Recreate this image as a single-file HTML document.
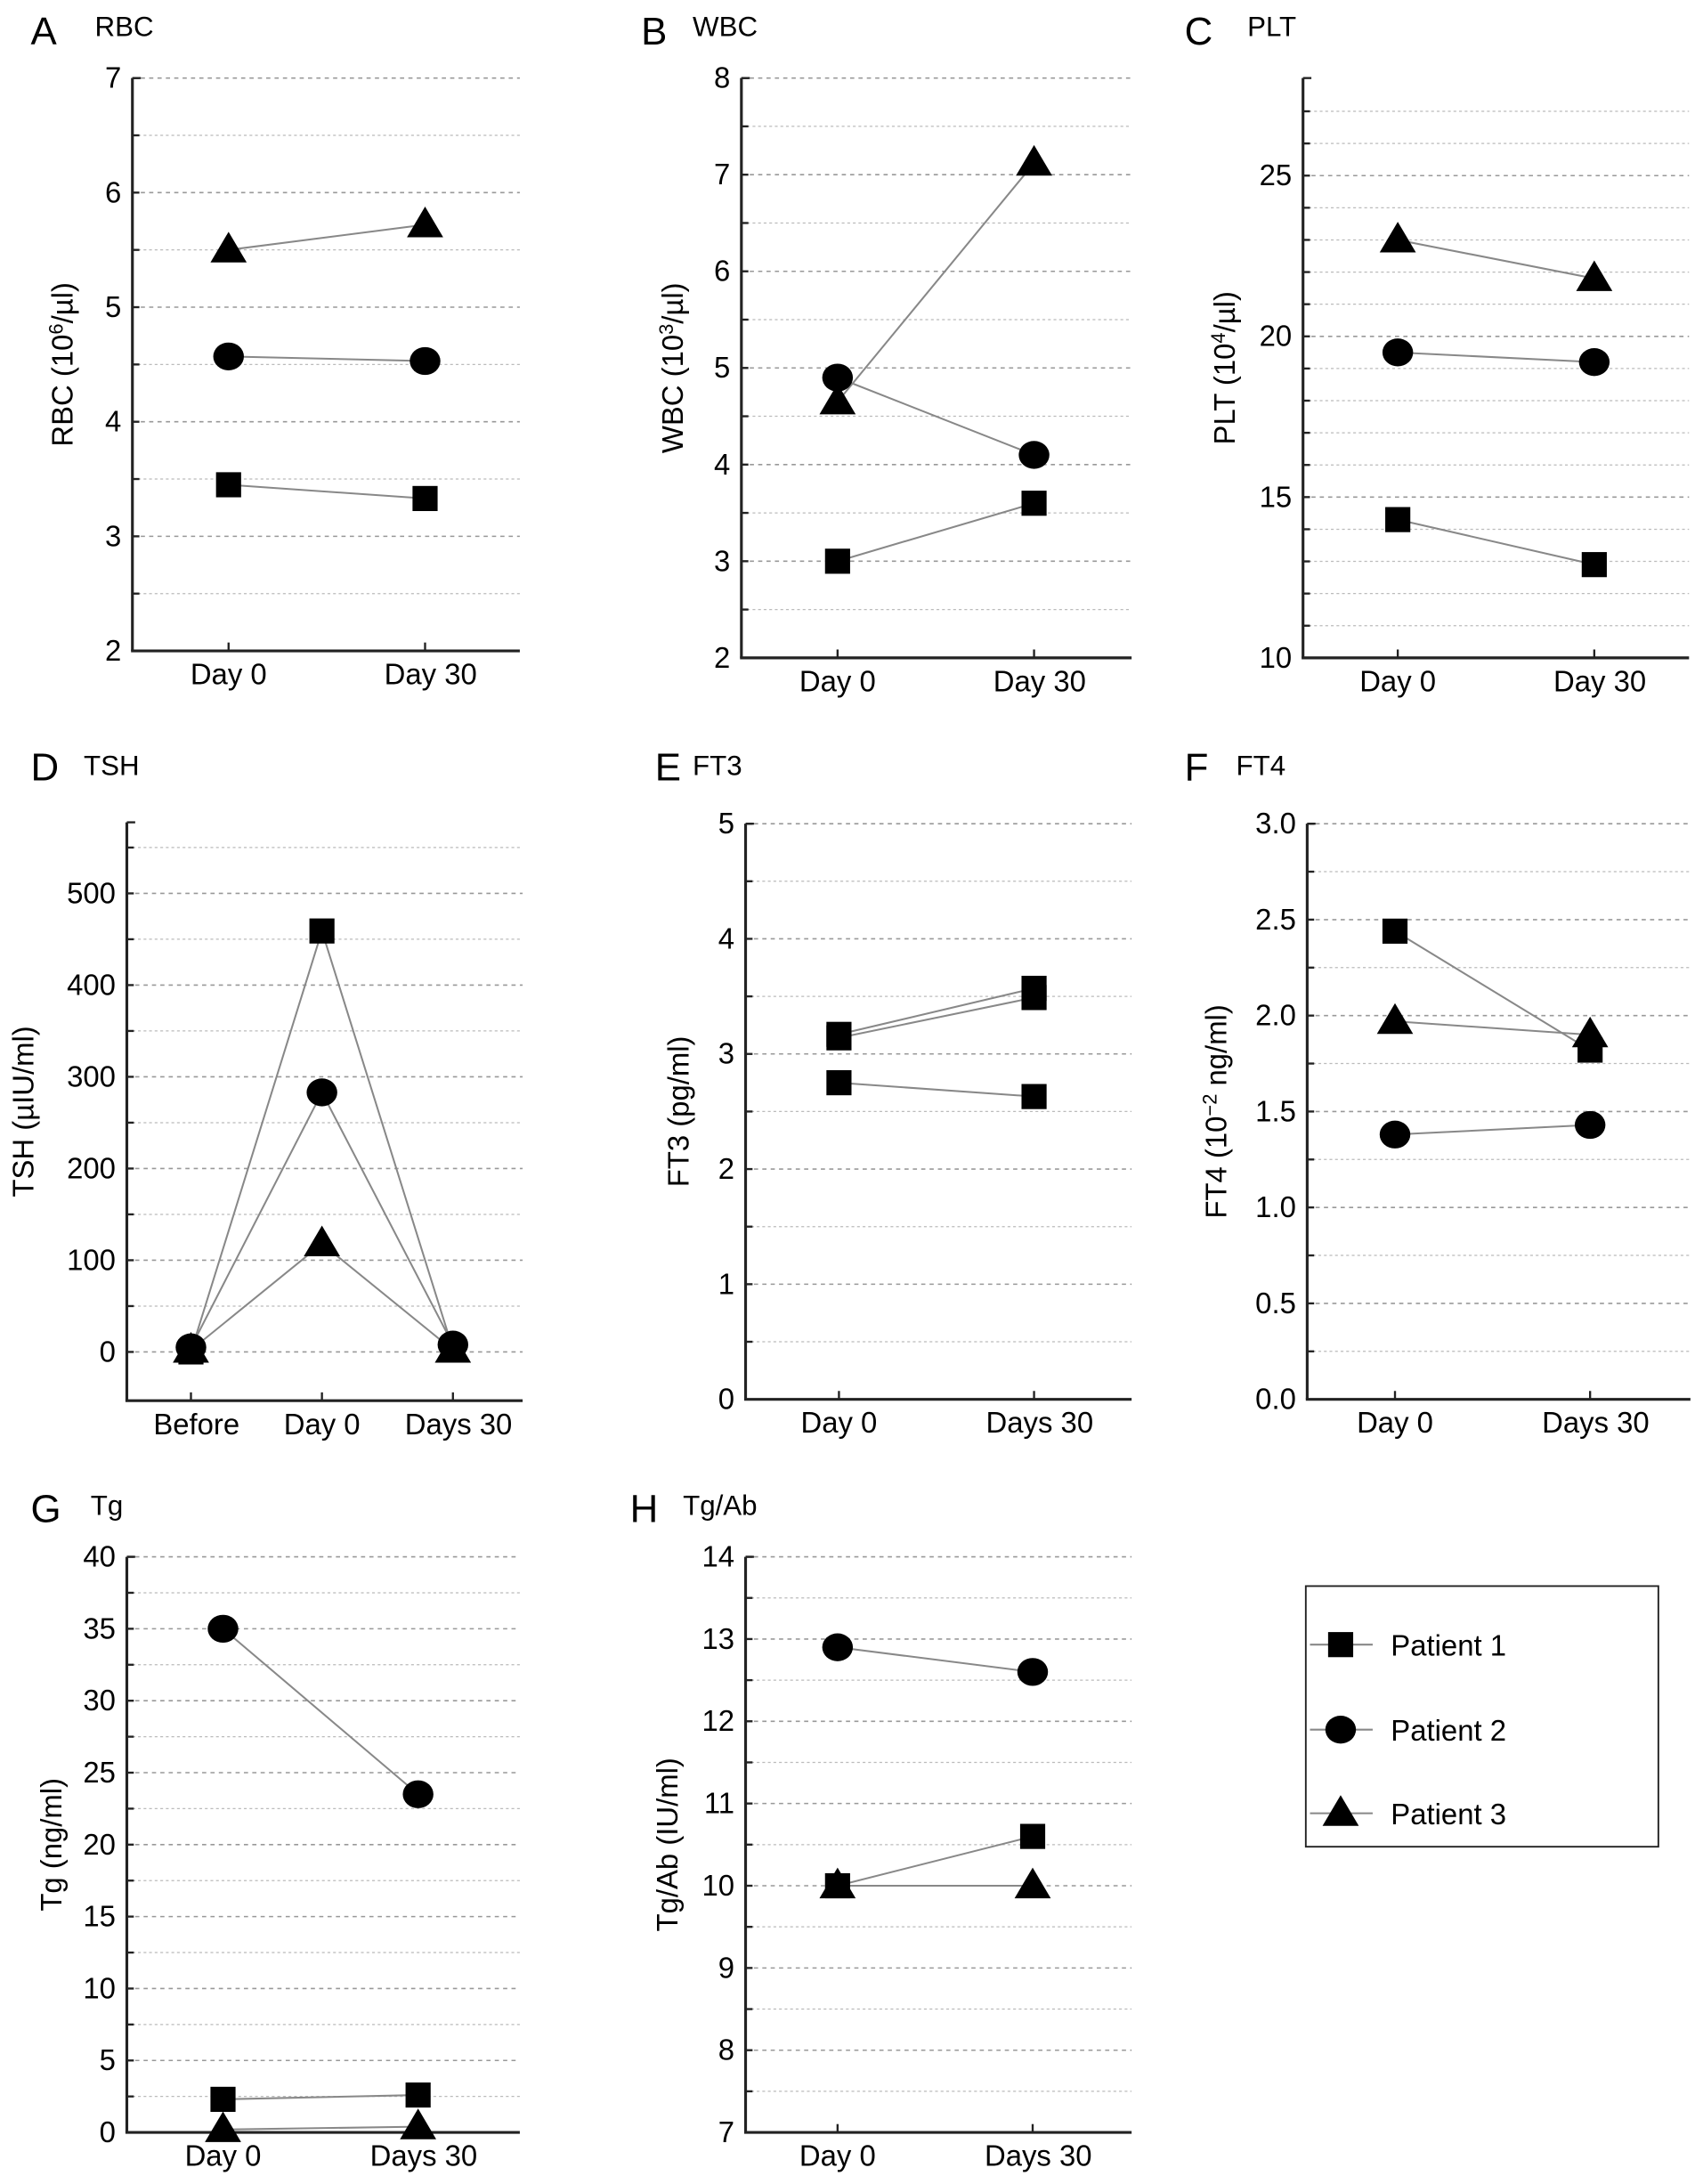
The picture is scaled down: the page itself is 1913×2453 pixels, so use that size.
<!DOCTYPE html>
<html><head><meta charset="utf-8"><style>
html,body{margin:0;padding:0;background:#fff;}
svg{display:block;font-family:"Liberation Sans",Arial,sans-serif;}
</style></head><body>
<svg id="fig" width="1913" height="2453" viewBox="0 0 1222 1567" xmlns="http://www.w3.org/2000/svg">
<g>
<rect x="937" y="1138" width="253" height="187" fill="#fff" stroke="#222" stroke-width="1.2"/>
<g><line x1="940" y1="1180" x2="985" y2="1180" stroke="#888" stroke-width="1.3"/><rect x="953" y="1171" width="18" height="18" fill="#000"/><text x="998" y="1188" font-size="21">Patient 1</text></g>
<g><line x1="940" y1="1241" x2="985" y2="1241" stroke="#888" stroke-width="1.3"/><ellipse cx="962" cy="1241" rx="11" ry="10" fill="#000"/><text x="998" y="1249" font-size="21">Patient 2</text></g>
<g><line x1="940" y1="1301" x2="985" y2="1301" stroke="#888" stroke-width="1.3"/><polygon points="962,1288 975,1310 949,1310" fill="#000"/><text x="998" y="1309" font-size="21">Patient 3</text></g>
</g>
</svg>
<script>
// ---- data ----
const cats2 = ["Day 0", "Day 30"];
const cats2s = ["Day 0", "Days 30"];
const cats3 = ["Before", "Day 0", "Days 30"];
const rbcP1 = [3.45, 3.33];
const rbcP2 = [4.57, 4.53];
const rbcP3 = [5.5, 5.72];
const wbcP1 = [3.0, 3.6];
const wbcP2 = [4.9, 4.1];
const wbcP3 = [4.65, 7.12];
const pltP1 = [14.3, 12.9];
const pltP2 = [19.5, 19.2];
const pltP3 = [23.0, 21.8];
const tshP1 = [0, 459, 3];
const tshP2 = [5, 283, 8];
const tshP3 = [2, 118, 2];
const ft3P1 = [2.75, 2.63];
const ft3P2 = [3.17, 3.57];
const ft3P3 = [3.14, 3.49];
const ft4P1 = [2.44, 1.82];
const ft4P2 = [1.38, 1.43];
const ft4P3 = [1.97, 1.90];
const tgP1 = [2.3, 2.6];
const tgP2 = [35, 23.5];
const tgP3 = [0.2, 0.4];
const tgabP1 = [10.0, 10.6];
const tgabP2 = [12.9, 12.6];
const tgabP3 = [10.0, 10.0];
const rbcTicks = ["2","3","4","5","6","7"];
const wbcTicks = ["2","3","4","5","6","7","8"];
const pltTicks = ["10","15","20","25"];
const tshTicks = ["0","100","200","300","400","500"];
const ft3Ticks = ["0","1","2","3","4","5"];
const ft4Ticks = ["0.0","0.5","1.0","1.5","2.0","2.5","3.0"];
const tgTicks = ["0","5","10","15","20","25","30","35","40"];
const tgabTicks = ["7","8","9","10","11","12","13","14"];

const NS = "http://www.w3.org/2000/svg";
const svg = document.getElementById("fig");
function mk(tag, attrs, parent){const e=document.createElementNS(NS,tag);for(const k in attrs)e.setAttribute(k,attrs[k]);(parent||svg).appendChild(e);return e;}

const panels = [
 {id:"rbc",letter:"A",name:"RBC",lx:22,ly:32,nx:68,ny:26,ax:95,v0:2,p0:467,v1:7,p1:56,top:56,xAxisY:467,xEnd:373,cx:[164,305],minor:0.5,ticks:rbcTicks,cats:cats2,s:[rbcP1,rbcP2,rbcP3],yl:"RBC (10",sup:"6",yl2:"/µl)",ylx:52},
 {id:"wbc",letter:"B",name:"WBC",lx:460,ly:32,nx:497,ny:26,ax:532,v0:2,p0:472,v1:8,p1:56,top:56,xAxisY:472,xEnd:812,cx:[601,742],minor:0.5,ticks:wbcTicks,cats:cats2,s:[wbcP1,wbcP2,wbcP3],yl:"WBC (10",sup:"3",yl2:"/µl)",ylx:490},
 {id:"plt",letter:"C",name:"PLT",lx:850,ly:32,nx:895,ny:26,ax:935,v0:10,p0:472,v1:25,p1:126,top:56,xAxisY:472,xEnd:1212,cx:[1003,1144],minor:1,maxMinor:27,ticks:pltTicks,cats:cats2,s:[pltP1,pltP2,pltP3],yl:"PLT (10",sup:"4",yl2:"/µl)",ylx:886},
 {id:"tsh",letter:"D",name:"TSH",lx:22,ly:560,nx:60,ny:556,ax:91,v0:0,p0:970,v1:500,p1:641,top:590,xAxisY:1005,xEnd:375,cx:[137,231,325],minor:50,maxMinor:550,ticks:tshTicks,cats:cats3,s:[tshP1,tshP2,tshP3],yl:"TSH (µIU/ml)",ylx:24},
 {id:"ft3",letter:"E",name:"FT3",lx:470,ly:560,nx:497,ny:556,ax:535,v0:0,p0:1004,v1:5,p1:591,top:591,xAxisY:1004,xEnd:812,cx:[602,742],minor:0.5,ticks:ft3Ticks,cats:cats2s,s:[ft3P1,ft3P2,ft3P3],shapes:["sq","sq","sq"],yl:"FT3 (pg/ml)",ylx:494},
 {id:"ft4",letter:"F",name:"FT4",lx:850,ly:560,nx:887,ny:556,ax:938,v0:0,p0:1004,v1:3,p1:591,top:591,xAxisY:1004,xEnd:1213,cx:[1001,1141],minor:0.25,ticks:ft4Ticks,cats:cats2s,s:[ft4P1,ft4P2,ft4P3],yl:"FT4 (10",sup:"−2",yl2:" ng/ml)",ylx:880},
 {id:"tg",letter:"G",name:"Tg",lx:22,ly:1092,nx:65,ny:1087,ax:91,v0:0,p0:1530,v1:40,p1:1117,top:1117,xAxisY:1530,xEnd:373,cx:[160,300],minor:2.5,ticks:tgTicks,cats:cats2s,s:[tgP1,tgP2,tgP3],yl:"Tg (ng/ml)",ylx:44},
 {id:"tgab",letter:"H",name:"Tg/Ab",lx:452,ly:1092,nx:490,ny:1087,ax:535,v0:7,p0:1530,v1:14,p1:1117,top:1117,xAxisY:1530,xEnd:812,cx:[601,741],minor:0.5,ticks:tgabTicks,cats:cats2s,s:[tgabP1,tgabP2,tgabP3],yl:"Tg/Ab (IU/ml)",ylx:486}
];

panels.forEach(P=>{
  const y = v => P.p0 + (v - P.v0) * (P.p1 - P.p0) / (P.v1 - P.v0);
  const g = mk("g",{});
  
  
  const t1 = mk("text",{x:P.lx,y:P.ly,"font-size":28},g); t1.textContent=P.letter;
  
  
  const t2 = mk("text",{x:P.nx,y:P.ny,"font-size":20},g); t2.textContent=P.name;
  
  
  const maxV = P.maxMinor!==undefined ? P.maxMinor : P.v1;
  const nSteps = Math.round((maxV - P.v0) / P.minor);
  for(let k = 0; k <= nSteps; k++){
    const v = P.v0 + k * P.minor;
    const yy = y(v);
    if(Math.abs(yy-P.xAxisY)<1) continue;
    const isMajor = P.ticks.some(t=>Math.abs(parseFloat(t)-v)<1e-9);
    const gl = mk("line",{x1:P.ax,x2:P.xEnd,y1:yy,y2:yy,stroke:isMajor?"#999":"#bbb","stroke-width":isMajor?1:0.8,"stroke-dasharray":isMajor?"3,3":"2,2"},g);
    
    
    mk("line",{x1:P.ax,x2:P.ax+5,y1:yy,y2:yy,stroke:"#222","stroke-width":1.5},g);
  }
  P.ticks.forEach(t=>{
    const yy = y(parseFloat(t));
    const tl = mk("text",{x:P.ax-8,y:yy+7,"font-size":21,"text-anchor":"end"},g); tl.textContent=t;
    
    
  });
  const yAx = mk("line",{x1:P.ax,x2:P.ax,y1:P.top,y2:P.xAxisY,stroke:"#222","stroke-width":2},g);
  
  
  const xAx = mk("line",{x1:P.ax-1,x2:P.xEnd,y1:P.xAxisY,y2:P.xAxisY,stroke:"#222","stroke-width":2},g);
  
  
  mk("line",{x1:P.ax,x2:P.ax+6,y1:P.top,y2:P.top,stroke:"#222","stroke-width":1.5},g);
  P.cats.forEach((c,i)=>{
    mk("line",{x1:P.cx[i],x2:P.cx[i],y1:P.xAxisY,y2:P.xAxisY-6,stroke:"#222","stroke-width":1.5},g);
    const xl = mk("text",{x:P.cx[i]+(c.length>5?4:0),y:P.xAxisY+24,"font-size":21,"text-anchor":"middle"},g); xl.textContent=c;
    
    
  });
  const yt = mk("text",{transform:`translate(${P.ylx},${(P.top+P.xAxisY)/2}) rotate(-90)`,"font-size":21,"text-anchor":"middle"},g);
  
  
  if(P.sup){
    const a=mk("tspan",{},yt); a.textContent=P.yl;
    const b=mk("tspan",{"font-size":14,dy:-7},yt); b.textContent=P.sup;
    const c=mk("tspan",{dy:7},yt); c.textContent=P.yl2;
  } else yt.textContent=P.yl;
  const shapes = P.shapes || ["sq","ci","tr"];
  const order = [0,1,2];
  order.forEach(si=>{
    const vals = P.s[si];
    const pts = vals.map((v,i)=>[P.cx[i], y(v)]);
    const pl = mk("polyline",{points:pts.map(p=>p.join(",")).join(" "),fill:"none",stroke:"#888","stroke-width":1.3},g);
    
    
  });
  order.forEach(si=>{
    const vals = P.s[si];
    vals.forEach((v,i)=>{
      const px = P.cx[i], py = y(v);
      let m;
      if(shapes[si]==="sq") m = mk("rect",{x:px-9,y:py-9,width:18,height:18,fill:"#000"},g);
      else if(shapes[si]==="ci") m = mk("ellipse",{cx:px,cy:py,rx:11,ry:10,fill:"#000"},g);
      else m = mk("polygon",{points:`${px},${py-13} ${px+13},${py+9} ${px-13},${py+9}`,fill:"#000"},g);
      
      
    });
  });
});
</script>
</body></html>
